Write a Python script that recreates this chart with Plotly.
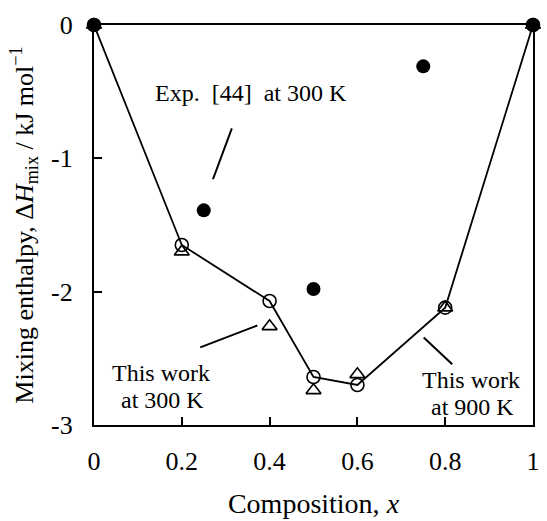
import plotly.graph_objects as go

# Data
x_calc = [0, 0.2, 0.4, 0.5, 0.6, 0.8, 1]
y_300 = [0, -1.65, -2.07, -2.64, -2.70, -2.12, 0]      # open circles + line
y_900 = [0, -1.70, -2.26, -2.74, -2.62, -2.12, 0]      # open triangles
x_exp = [0, 0.25, 0.5, 0.75, 1]
y_exp = [0, -1.39, -1.98, -0.31, 0]                    # filled circles

x_ticks = [0, 0.2, 0.4, 0.6, 0.8, 1]
x_ticktext = ["0", "0.2", "0.4", "0.6", "0.8", "1"]
y_ticks = [0, -1, -2, -3]
y_ticktext = ["0", "-1", "-2", "-3"]

FONT = "Liberation Serif, Times New Roman, serif"

fig = go.Figure()
fig.add_trace(go.Scatter(
    x=x_calc, y=y_300, mode="lines+markers",
    line=dict(color="black", width=1.8),
    marker=dict(symbol="circle-open", size=13, color="black", line=dict(width=1.6)),
    cliponaxis=False, showlegend=False))
fig.add_trace(go.Scatter(
    x=x_calc, y=y_900, mode="markers",
    marker=dict(symbol="triangle-up-open", size=13, color="black", line=dict(width=1.6)),
    cliponaxis=False, showlegend=False))
fig.add_trace(go.Scatter(
    x=x_exp, y=y_exp, mode="markers",
    marker=dict(symbol="circle", size=14, color="black"),
    cliponaxis=False, showlegend=False))

# Leader lines
leaders = [
    ((0.314, -0.776), (0.271, -1.157)),
    ((0.372, -2.254), (0.242, -2.418)),
    ((0.751, -2.343), (0.816, -2.545)),
]
for (x0, y0), (x1, y1) in leaders:
    fig.add_shape(type="line", x0=x0, y0=y0, x1=x1, y1=y1,
                  line=dict(color="black", width=2), xref="x", yref="y")

labels = [
    (0.358, -0.507, "Exp.  [44]  at 300 K"),
    (0.152, -2.612, "This work"),
    (0.155, -2.813, "at 300 K"),
    (0.859, -2.664, "This work"),
    (0.862, -2.866, "at 900 K"),
]
for lx, ly, txt in labels:
    fig.add_annotation(x=lx, y=ly, text=txt, showarrow=False,
                       font=dict(size=24, color="black", family=FONT))

fig.update_layout(
    width=547, height=521,
    margin=dict(l=94, r=7, t=25, b=94),
    paper_bgcolor="white", plot_bgcolor="white",
    font=dict(family=FONT, size=26, color="black"),
)
fig.update_xaxes(
    range=[0, 1], tickvals=x_ticks, ticktext=x_ticktext,
    showgrid=False, zeroline=False,
    showline=True, linecolor="black", linewidth=2.2, mirror=True,
    ticks="inside", ticklen=8, tickwidth=1.5, tickcolor="black",
    ticklabelstandoff=12, tickfont=dict(size=26),
    title=dict(text="Composition, <i>x</i>", standoff=18, font=dict(size=28)),
)
fig.update_yaxes(
    range=[-3, 0], tickvals=y_ticks, ticktext=y_ticktext,
    showgrid=False, zeroline=False,
    showline=True, linecolor="black", linewidth=2.2, mirror=True,
    ticks="inside", ticklen=8, tickwidth=1.5, tickcolor="black",
    ticklabelstandoff=14, tickfont=dict(size=26),
    title=dict(text="Mixing enthalpy, Δ<i>H</i><sub>mix</sub> / kJ mol<sup>−1</sup>",
               standoff=10, font=dict(size=26)),
)

fig.write_html("out.html")
